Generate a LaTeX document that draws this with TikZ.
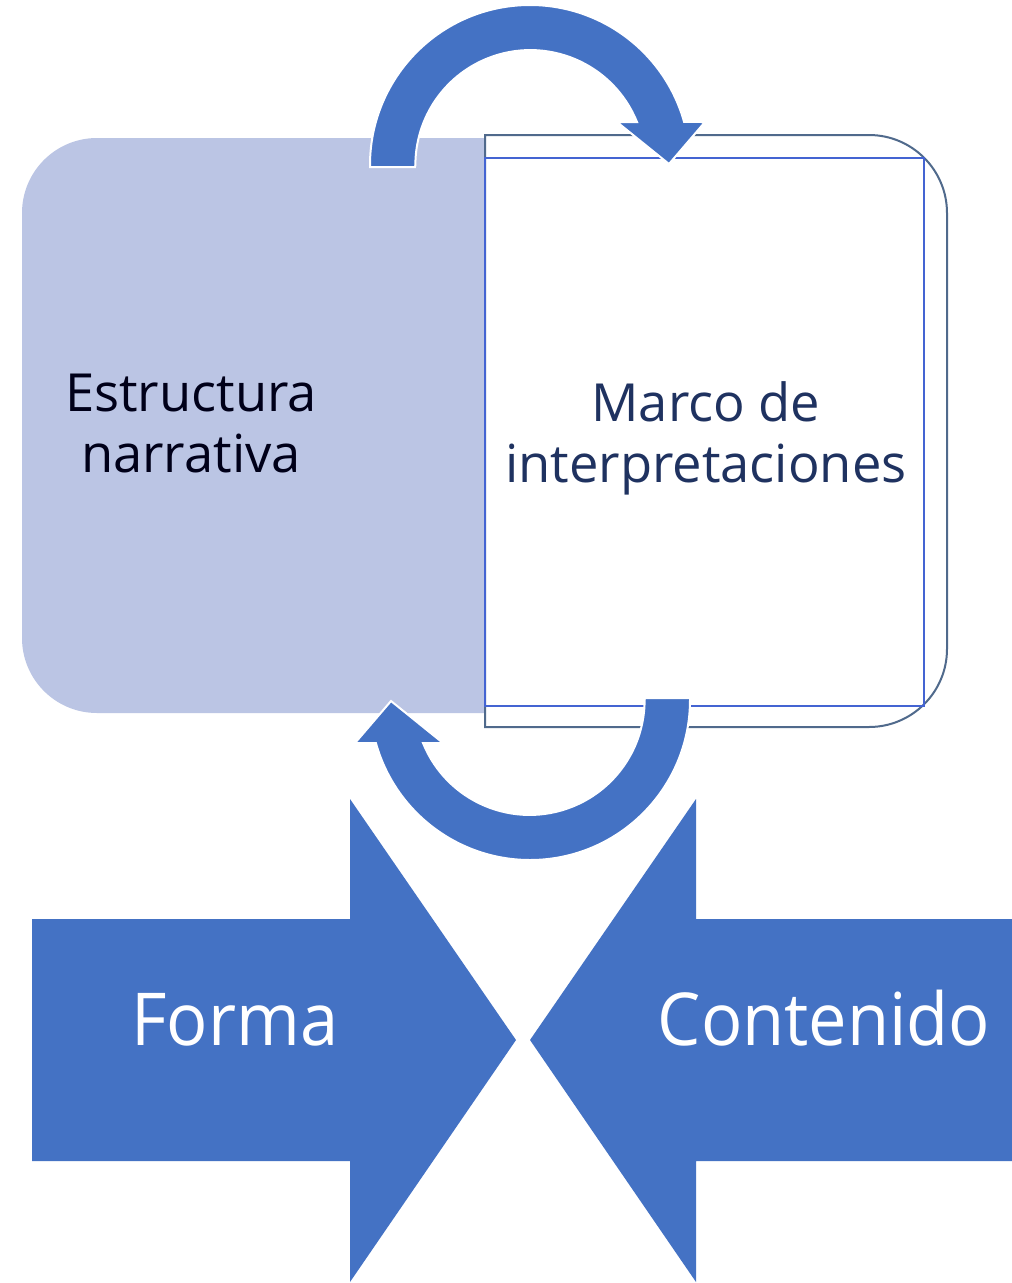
\documentclass[tikz,border=0pt]{standalone}
\usepackage{fontspec}
\setmainfont{Open Sans}
\newfontfamily\boxfont{Open Sans}
\newfontfamily\arrowfont[FakeStretch=0.94]{Open Sans}
\usepackage{tikz}
\usetikzlibrary{positioning}

\definecolor{arrowblue}{RGB}{68,114,196}
\definecolor{lavender}{RGB}{187,197,228}
\definecolor{slateline}{RGB}{80,106,140}
\definecolor{innerline}{RGB}{68,100,210}
\definecolor{navytext}{RGB}{31,50,96}

\tikzset{
  loopshape/.style={fill=arrowblue,draw=white,line width=2pt,line join=miter},
  bigshape/.style={fill=arrowblue},
  boxlabel/.style={font=\boxfont\fontsize{52.5}{61}\selectfont,align=center,inner sep=0pt},
  arrowlabel/.style={font=\arrowfont\fontsize{73}{80}\selectfont,text=white,inner sep=0pt,anchor=base}
}

\begin{document}
\begin{tikzpicture}[x=1pt,y=-1pt]
 	\fill[white] (0,0) rectangle (1012,1283);
 	\useasboundingbox (0,0) rectangle (1012,1283);
 	% left box
 	\fill[lavender,rounded corners=75pt] (22,138) rectangle (620,713);
 	% right box
 	\draw[slateline,line width=2pt,fill=white] (485,135) -- (869,135) arc[start angle=270, end angle=360, radius=78] -- (947,649) arc[start angle=0, end angle=90, radius=78] -- (485,727) -- cycle;
 	\draw[innerline,line width=2pt] (485,158) rectangle (924,706);
 	\node[boxlabel,text=black!90!blue] (estructura) at (191,423.5) {Estructura\\narrativa};
 	\node[boxlabel,text=navytext] (marco) at (706,438) {Marco de\\interpretaciones};
 	% circular arrows
 	\draw[loopshape] (370,167) -- (370,165) arc[start angle=180, end angle=344.4, radius=160] -- (705,122) -- (669,164) -- (617,122) -- (637,122) arc[start angle=338, end angle=180, radius=115] -- (415,167) -- cycle;
 	\draw[loopshape] (690,698) -- (690,700) arc[start angle=0, end angle=164.4, radius=160] -- (355,743) -- (391,701) -- (443,743) -- (423,743) arc[start angle=158, end angle=0, radius=115] -- (645,698) -- cycle;
 	% big arrows
 	\fill[bigshape] (32,919) -- (350,919) -- (350,799) -- (516,1040) -- (350,1282) -- (350,1161) -- (32,1161) -- cycle;
 	\fill[bigshape] (1015,919) -- (696,919) -- (696,799) -- (530,1040) -- (696,1282) -- (696,1161) -- (1015,1161) -- cycle;
 	\node[arrowlabel] (forma) at (235,1045) {Forma};
 	\node[arrowlabel] (contenido) at (824,1045) {Contenido};
\end{tikzpicture}
\end{document}
